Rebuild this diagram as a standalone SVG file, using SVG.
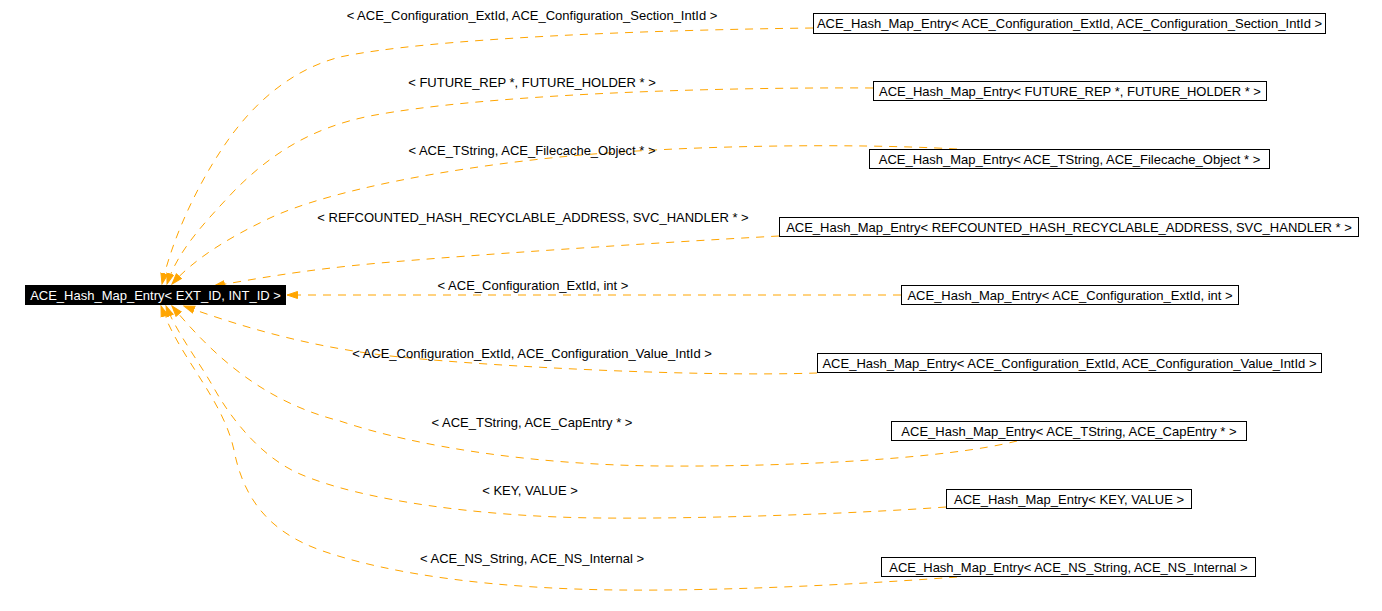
<svg xmlns="http://www.w3.org/2000/svg" width="1382" height="611" viewBox="0 0 1382 611">
<style>
text{font-family:"Liberation Sans",Arial,sans-serif;font-size:13px;text-anchor:middle;fill:#000}
.box{fill:#fff;stroke:#000;stroke-width:1}
.edge{fill:none;stroke:#ffa500;stroke-width:1;stroke-dasharray:8,7;marker-end:url(#ah)}
.main text{fill:#fff}
</style>
<defs>
<marker id="ah" markerWidth="12" markerHeight="9" refX="11" refY="4.5" orient="auto" markerUnits="userSpaceOnUse" viewBox="0 0 12 9">
<path d="M11,4.5 L0.5,1 L0.5,8 Z" fill="#ffa500" stroke="#ffa500" stroke-width="1"/>
</marker>
</defs>
<rect width="1382" height="611" fill="#fff"/>
<g id="connectors">
<path class="edge" d="M813,28 C650,30 430,38 340,57 C290,70 250,105 220,152 C195,190 172,240 162,284"/>
<path class="edge" d="M873,88 C700,87 480,95 370,116 C310,128 270,155 235,190 C205,222 178,250 167,284"/>
<path class="edge" d="M957,149 C850,143 680,145 560,157 C450,168 330,190 270,218 C230,237 195,258 172,284"/>
<path class="edge" d="M779,236 C650,243 470,255 380,263 C300,270 250,280 214,286"/>
<path class="edge" d="M901,295 L287,295"/>
<path class="edge" d="M817,373 C700,377 500,367 400,357 C320,349 250,330 184,306"/>
<path class="edge" d="M1017,441 C950,458 800,467 660,466 C540,465 420,448 340,421 C265,402 215,358 172,306"/>
<path class="edge" d="M946,507 C850,514 700,519 600,518 C480,517 360,500 300,474 C265,459 235,425 215,390 C200,363 178,335 166,306"/>
<path class="edge" d="M957,577 C850,585 720,591 620,590 C500,589 390,575 320,550 C270,532 245,500 235,455 C225,400 180,360 161,306"/>
</g>
<g id="labels">
<text x="532" y="20">&lt; ACE_Configuration_ExtId, ACE_Configuration_Section_IntId &gt;</text>
<text x="532" y="87">&lt; FUTURE_REP *, FUTURE_HOLDER * &gt;</text>
<text x="532" y="155">&lt; ACE_TString, ACE_Filecache_Object * &gt;</text>
<text x="533" y="222">&lt; REFCOUNTED_HASH_RECYCLABLE_ADDRESS, SVC_HANDLER * &gt;</text>
<text x="533" y="290">&lt; ACE_Configuration_ExtId, int &gt;</text>
<text x="532" y="358">&lt; ACE_Configuration_ExtId, ACE_Configuration_Value_IntId &gt;</text>
<text x="532" y="427">&lt; ACE_TString, ACE_CapEntry * &gt;</text>
<text x="530" y="495">&lt; KEY, VALUE &gt;</text>
<text x="532" y="563">&lt; ACE_NS_String, ACE_NS_Internal &gt;</text>
</g>
<g id="node-main" class="main">
<rect x="25" y="285" width="261" height="20" fill="#000"/>
<text x="155.5" y="300">ACE_Hash_Map_Entry&lt; EXT_ID, INT_ID &gt;</text>
</g>
<g id="node1"><rect class="box" x="813.5" y="13.5" width="512" height="20"/><text x="1069.5" y="28">ACE_Hash_Map_Entry&lt; ACE_Configuration_ExtId, ACE_Configuration_Section_IntId &gt;</text></g>
<g id="node2"><rect class="box" x="873.5" y="81.5" width="393" height="19"/><text x="1070" y="95.5">ACE_Hash_Map_Entry&lt; FUTURE_REP *, FUTURE_HOLDER * &gt;</text></g>
<g id="node3"><rect class="box" x="869.5" y="149.5" width="400" height="19"/><text x="1069.5" y="163.5">ACE_Hash_Map_Entry&lt; ACE_TString, ACE_Filecache_Object * &gt;</text></g>
<g id="node4"><rect class="box" x="779.5" y="217.5" width="579" height="19"/><text x="1069" y="231.5">ACE_Hash_Map_Entry&lt; REFCOUNTED_HASH_RECYCLABLE_ADDRESS, SVC_HANDLER * &gt;</text></g>
<g id="node5"><rect class="box" x="901.5" y="285.5" width="337" height="19"/><text x="1070" y="299.5">ACE_Hash_Map_Entry&lt; ACE_Configuration_ExtId, int &gt;</text></g>
<g id="node6"><rect class="box" x="817.5" y="353.5" width="504" height="19"/><text x="1069.5" y="367.5">ACE_Hash_Map_Entry&lt; ACE_Configuration_ExtId, ACE_Configuration_Value_IntId &gt;</text></g>
<g id="node7"><rect class="box" x="891.5" y="421.5" width="355" height="19"/><text x="1069" y="435.5">ACE_Hash_Map_Entry&lt; ACE_TString, ACE_CapEntry * &gt;</text></g>
<g id="node8"><rect class="box" x="946.5" y="489.5" width="245" height="19"/><text x="1069" y="503.5">ACE_Hash_Map_Entry&lt; KEY, VALUE &gt;</text></g>
<g id="node9"><rect class="box" x="881.5" y="557.5" width="374" height="19"/><text x="1068.5" y="571.5">ACE_Hash_Map_Entry&lt; ACE_NS_String, ACE_NS_Internal &gt;</text></g>
</svg>
